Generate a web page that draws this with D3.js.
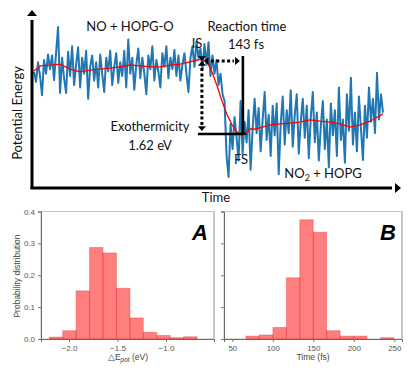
<!DOCTYPE html>
<html>
<head>
<meta charset="UTF-8">
<title>NO + HOPG-O reaction</title>
<style>
  body { margin: 0; background: #fff; }
  svg text { font-family: Lato, "Liberation Sans", sans-serif; }
  .small text, text.small { font-family: "Liberation Sans", Arial, sans-serif; }
</style>
</head>
<body>
<svg id="chart" width="415" height="370"></svg>
<script src="https://cdnjs.cloudflare.com/ajax/libs/d3/7.8.5/d3.min.js"></script>
<script>
// trajectory: potential energy (eV, relative to IS) sampled every 7 fs
const trajStep = 7;
const trajEnergy = [
  -0.26, -0.48, -0.05, -0.35, -0.77, 0.00, -0.30, 0.12, -0.20, 0.10,
  -0.44, 0.15, 0.72, -0.72, 0.05, -0.40, -0.72, 0.18, -0.35, 0.30,
  -0.55, -0.10, 0.28, -0.60, 0.05, -0.30, 0.20, -0.85, -0.15, 0.10,
  -0.45, -0.05, -0.60, 0.12, -0.30, -0.70, 0.05, -0.25, 0.20, -0.55,
  -0.15, 0.15, -0.50, -0.05, -0.35, 0.20, -0.60, 0.45, -0.30, 0.05,
  -0.65, -0.10, 0.25, -0.40, 0.05, -0.30, -0.75, 0.10, -0.20, 0.30,
  -0.45, 0.00, -0.25, -0.60, 0.15, -0.15, 0.30, -0.40, 0.05, -0.20,
  0.22, -0.35, 0.10, -0.45, -0.10, 0.15, -0.30, -0.70, 0.05, 0.30,
  -0.15, 0.40, 0.05, 0.25, -0.20, 0.35, -0.10, 0.39, -0.35, 0.10,
  -0.30, 0.00, -0.55, -0.30, -0.75, -0.90, -2.10, -2.56, -1.40, -1.95,
  -1.25, -1.70, -2.20, -0.90, -2.05, -1.35, -1.80, -1.10, -2.40, -1.50,
  -0.85, -1.60, -1.05, -2.00, -1.30, -0.70, -1.75, -1.20, -2.10, -1.00,
  -1.65, -0.95, -2.50, -1.40, -0.80, -1.85, -1.10, -1.60, -0.66, -1.90,
  -1.20, -0.75, -2.05, -1.35, -0.85, -1.70, -1.00, -2.15, -1.25, -0.70,
  -1.80, -1.15, -2.20, -1.45, -0.90, -1.95, -1.30, -2.35, -0.95, -1.65,
  -1.10, -2.10, -0.60, -1.75, -1.30, -2.25, -0.75, -1.55, -0.39, -1.85,
  -1.15, -2.00, -0.80, -1.50, -2.19, -1.00, -1.70, -0.60, -1.35, -0.85,
  -1.60, -0.28, -1.30, -0.75, -1.15
];

// running average (fs, eV)
const avgTime = [0, 21, 56, 91, 126, 161, 195, 230, 265, 300, 335, 370, 405, 440, 475, 510, 544, 569, 586, 604,
  621, 639, 656, 674, 691, 709, 726, 740, 754, 775, 796, 824, 859, 893, 928, 963, 998, 1033, 1068, 1103,
  1138, 1173, 1218];
const avgEnergy = [-0.24, -0.13, -0.11, -0.09, -0.20, -0.26, -0.22, -0.20, -0.18, -0.15, -0.11, -0.13, -0.15, -0.15, -0.11, -0.09, -0.04, 0.00, 0.02, -0.04,
  -0.26, -0.57, -0.90, -1.20, -1.42, -1.58, -1.64, -1.60, -1.51, -1.51, -1.47, -1.42, -1.40, -1.38, -1.36, -1.31, -1.34, -1.36, -1.40, -1.47,
  -1.42, -1.34, -1.18];

const isPoint = { t: 586, e: 0 };
const fsPoint = { t: 729, e: -1.62 };

// histograms
const histA = {
  edges: [-2.204, -2.065, -1.927, -1.788, -1.650, -1.511, -1.372, -1.234, -1.095, -0.957, -0.818, -0.680],
  values: [0.006, 0.026, 0.151, 0.287, 0.270, 0.159, 0.066, 0.021, 0.011, 0.004, 0.007]
};
const histB = {
  edges: [66.9, 83.5, 100.1, 116.7, 133.3, 149.9, 166.5, 183.1, 199.7, 216.3, 232.9, 249.5],
  values: [0.009, 0.0125, 0.036, 0.192, 0.374, 0.335, 0.026, 0.009, 0.009, 0, 0.004]
};
const ticksA = [-2.0, -1.5, -1.0];
const ticksB = [50, 100, 150, 200, 250];
const probTicks = [0, 0.1, 0.2, 0.3, 0.4];

const svg = d3.select('#chart');

// ---------- top schematic ----------
const x = d3.scaleLinear().domain([0, 1218]).range([34, 383]);
const y = d3.scaleLinear().domain([0, -1.62]).range([60, 134]);

const tri = (cx, cy, dir, s) => {
  // dir: 'up','down','left','right' ; tip at (cx,cy)
  let p;
  if (dir === 'up') p = [[cx, cy], [cx - s, cy + s * 1.2], [cx + s, cy + s * 1.2]];
  if (dir === 'down') p = [[cx, cy], [cx - s, cy - s * 1.2], [cx + s, cy - s * 1.2]];
  if (dir === 'left') p = [[cx, cy], [cx + s * 1.2, cy - s], [cx + s * 1.2, cy + s]];
  if (dir === 'right') p = [[cx, cy], [cx - s * 1.2, cy - s], [cx - s * 1.2, cy + s]];
  return 'M' + p.map(d => d.join(',')).join('L') + 'Z';
};

const topG = svg.append('g');

topG.append('path')
  .datum(trajEnergy)
  .attr('fill', 'none')
  .attr('stroke', '#1f77b4')
  .attr('stroke-width', 2)
  .attr('stroke-linejoin', 'round')
  .attr('d', d3.line().x((d, i) => x(i * trajStep)).y(d => y(d)));

topG.append('path')
  .datum(avgTime.map((t, i) => [t, avgEnergy[i]]))
  .attr('fill', 'none')
  .attr('stroke', '#ff0000')
  .attr('stroke-width', 1.3)
  .attr('d', d3.line().x(d => x(d[0])).y(d => y(d[1])));

// axes with arrows
topG.append('line').attr('x1', 32).attr('y1', 189).attr('x2', 32).attr('y2', 20)
  .attr('stroke', '#000').attr('stroke-width', 3);
topG.append('path').attr('d', tri(32, 10, 'up', 5)).attr('fill', '#000');
topG.append('line').attr('x1', 30.5).attr('y1', 188).attr('x2', 392).attr('y2', 188)
  .attr('stroke', '#000').attr('stroke-width', 3);
topG.append('path').attr('d', tri(401, 188, 'right', 5)).attr('fill', '#000');

// annotations
const xi = x(isPoint.t), yi = y(isPoint.e), xf = x(fsPoint.t), yf = y(fsPoint.e);
topG.append('line').attr('x1', xf).attr('y1', yi - 4).attr('x2', xf).attr('y2', yf)
  .attr('stroke', '#000').attr('stroke-width', 2.6);
topG.append('line').attr('x1', xi - 4).attr('y1', yf).attr('x2', xf).attr('y2', yf)
  .attr('stroke', '#000').attr('stroke-width', 2.6);
topG.append('line').attr('x1', xi).attr('y1', yi + 8).attr('x2', xi).attr('y2', yf - 8)
  .attr('stroke', '#000').attr('stroke-width', 3).attr('stroke-dasharray', '3,2.4');
topG.append('line').attr('x1', xi + 9).attr('y1', yi + 1).attr('x2', xf - 9).attr('y2', yi + 1)
  .attr('stroke', '#000').attr('stroke-width', 3).attr('stroke-dasharray', '3,2.4');
topG.append('path').attr('d', tri(xi, yi + 1, 'down', 4)).attr('fill', '#000');
topG.append('path').attr('d', tri(xi, yi + 1, 'up', 4)).attr('fill', '#000');
topG.append('path').attr('d', tri(xi + 2, yi + 1, 'left', 4)).attr('fill', '#000');
topG.append('path').attr('d', tri(xf - 3, yi + 1, 'right', 4)).attr('fill', '#000');
topG.append('path').attr('d', tri(xi, yf - 3, 'down', 4)).attr('fill', '#000');
topG.append('path').attr('d', tri(xf, yf - 4, 'up', 4)).attr('fill', '#000');

const label = (tx, ty, s, anchor) => topG.append('text')
  .attr('x', tx).attr('y', ty).attr('text-anchor', anchor || 'middle')
  .attr('font-size', 13).attr('fill', '#111').text(s);

label(130, 31, 'NO + HOPG-O');
label(247, 31, 'Reaction time');
label(246, 49, '143 fs');
label(197, 48, 'IS');
label(150, 131, 'Exothermicity');
label(150, 150, '1.62 eV');
label(241, 164, 'FS');
label(216, 202, 'Time');
const no2 = topG.append('text').attr('x', 323).attr('y', 178).attr('text-anchor', 'middle')
  .attr('font-size', 13).attr('fill', '#111');
no2.append('tspan').text('NO');
no2.append('tspan').attr('font-size', 9).attr('dy', 3).text('2');
no2.append('tspan').attr('dy', -3).text(' + HOPG');
topG.append('text').attr('transform', 'translate(22,113) rotate(-90)')
  .attr('text-anchor', 'middle').attr('font-size', 13).attr('fill', '#111')
  .text('Potential Energy');

// ---------- histograms ----------
const yH = d3.scaleLinear().domain([0, 0.4]).range([339, 211.5]);

function histPanel(hist, xDomain, xRange, ticks, letter, showY) {
  const g = svg.append('g').attr('class', 'small');
  const xs = d3.scaleLinear().domain(xDomain).range(xRange);
  const [x0, x1] = xRange;

  g.append('rect').attr('x', x0).attr('y', 211.5).attr('width', x1 - x0).attr('height', 339 - 211.5)
    .attr('fill', 'none').attr('stroke', '#c4c4c4').attr('stroke-width', 1);
  g.append('line').attr('x1', x1).attr('x2', x1).attr('y1', 211).attr('y2', 339.5)
    .attr('stroke', '#c8c8c8').attr('stroke-width', 2);

  g.selectAll('rect.bar')
    .data(hist.values)
    .join('rect')
    .attr('class', 'bar')
    .attr('x', (d, i) => xs(hist.edges[i]))
    .attr('width', (d, i) => xs(hist.edges[i + 1]) - xs(hist.edges[i]))
    .attr('y', d => yH(d))
    .attr('height', d => yH(0) - yH(d))
    .attr('fill', 'rgba(255,0,0,0.5)')
    .attr('stroke', 'rgba(220,40,40,0.35)')
    .attr('stroke-width', 1);

  const xAxis = g.append('g').attr('transform', 'translate(0,339)')
    .call(d3.axisBottom(xs).tickValues(ticks).tickSize(3).tickFormat(d => d < 0 ? '\u2212' + Math.abs(d).toFixed(1) : d));
  const yAxis = g.append('g').attr('transform', `translate(${x0},0)`)
    .call(d3.axisLeft(yH).tickValues(probTicks).tickSize(3).tickFormat(showY ? d3.format('.1f') : ''));
  [xAxis, yAxis].forEach(a => {
    a.select('.domain').attr('stroke', '#6a6a6a');
    a.selectAll('.tick line').attr('stroke', '#777');
    a.selectAll('.tick text').attr('fill', '#555').attr('font-size', 8)
      .attr('font-family', '"Liberation Sans", Arial, sans-serif');
  });

  g.append('text').attr('x', x1 - 14).attr('y', 240).attr('text-anchor', 'middle')
    .attr('font-size', 22).attr('font-weight', 'bold').attr('font-style', 'italic')
    .attr('fill', '#000').text(letter);
  return g;
}

const gA = histPanel(histA, [-2.289, -0.505], [41, 214], ticksA, 'A', true);
const gB = histPanel(histB, [39.7, 259.5], [224, 402], ticksB, 'B', false);

const xl = gA.append('text').attr('x', 128).attr('y', 360).attr('text-anchor', 'middle')
  .attr('font-size', 8.5).attr('fill', '#444');
xl.append('tspan').text('\u25B3E');
xl.append('tspan').attr('font-size', 6.5).attr('font-style', 'italic').attr('dy', 2).text('pot');
xl.append('tspan').attr('dy', -2).text(' (eV)');
gB.append('text').attr('x', 313).attr('y', 360).attr('text-anchor', 'middle')
  .attr('font-size', 8.5).attr('fill', '#444').text('Time (fs)');
gA.append('text').attr('transform', 'translate(20,276) rotate(-90)')
  .attr('text-anchor', 'middle').attr('font-size', 8.5).attr('fill', '#444')
  .text('Probability distribution');
</script>
</body>
</html>
